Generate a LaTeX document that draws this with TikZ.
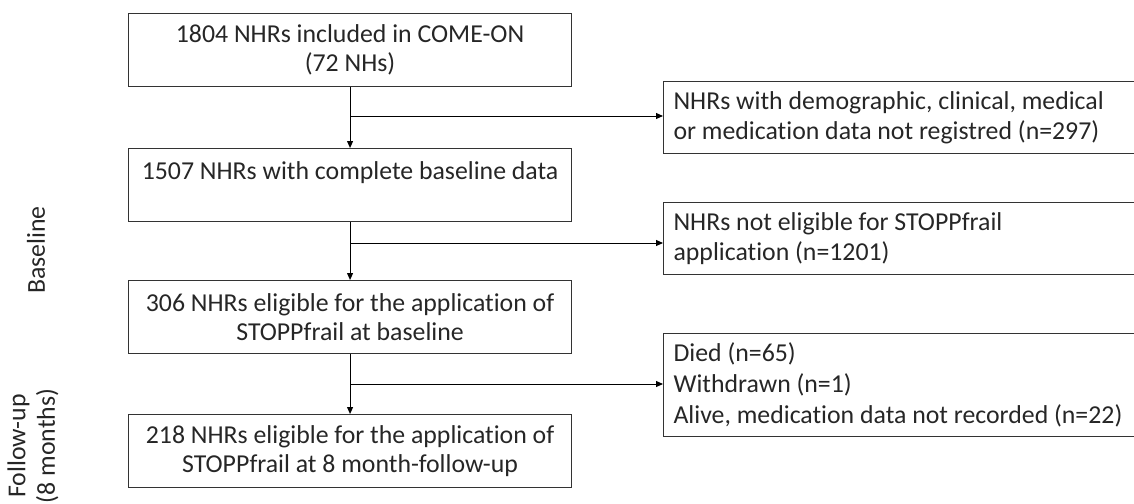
\documentclass[tikz,border=0pt]{standalone}
\usepackage{fontspec}
\setmainfont{Carlito}[Ligatures=NoCommon]
\usetikzlibrary{arrows.meta}
\begin{document}
\begin{tikzpicture}[x=1pt,y=-1pt,
  every node/.style={font=\fontsize{25.8}{29.5}\selectfont, text=black!85},
  mainbox/.style={draw=black!80, line width=1.1pt, minimum width=443pt, minimum height=73pt, inner sep=0pt, align=center, anchor=north west},
  sidebox/.style={draw=black!80, line width=1.1pt, minimum width=490pt, inner xsep=10pt, inner ysep=0pt, text width=470pt, align=flush left, anchor=north west},
  conn/.style={line width=1pt, draw=black},
  arr/.style={conn, -{Triangle[length=7pt,width=6pt]}},
  lbl/.style={rotate=90, align=center}
]
\useasboundingbox (0,0) rectangle (1134,503);
\begin{scope}
\clip (0,0) rectangle (1134,503);
\node[mainbox] (b1) at (128,13) {1804 NHRs included in COME-ON\\(72 NHs)};
\node[mainbox] (b2) at (128,148) {1507 NHRs with complete baseline data\\\mbox{}};
\node[mainbox] (b3) at (128,280) {306 NHRs eligible for the application of\\STOPPfrail at baseline};
\node[mainbox] (b4) at (128,414) {218 NHRs eligible for the application of\\STOPPfrail at 8 month-follow-up};

\node[sidebox, minimum height=72pt] (s1) at (663,81) {NHRs with demographic, clinical, medical\\or medication data not registred (n=297)};
\node[sidebox, minimum height=72pt] (s2) at (663,202) {NHRs not eligible for STOPPfrail\\application (n=1201)};
\node[sidebox, minimum height=103pt] (s3) at (663,333) {Died (n=65)\\[1.5pt]Withdrawn (n=1)\\[1.5pt]Alive, medication data not recorded (n=22)};

\coordinate (j1) at (b1.south |- 0,116);
\coordinate (j2) at (b2.south |- 0,243);
\coordinate (j3) at (b3.south |- 0,384);

\draw[arr] (b1.south) -- (b2.north);
\draw[arr] (b2.south) -- (b3.north);
\draw[arr] (b3.south) -- (b4.north);
\draw[arr] (j1) -- (j1 -| s1.west);
\draw[arr] (j2) -- (j2 -| s2.west);
\draw[arr] (j3) -- (j3 -| s3.west);

\node[lbl] (l1) at (36,250) {Baseline};
\node[lbl] (l2) at (33,446) {Follow-up\\(8 months)};
\end{scope}
\end{tikzpicture}
\end{document}
